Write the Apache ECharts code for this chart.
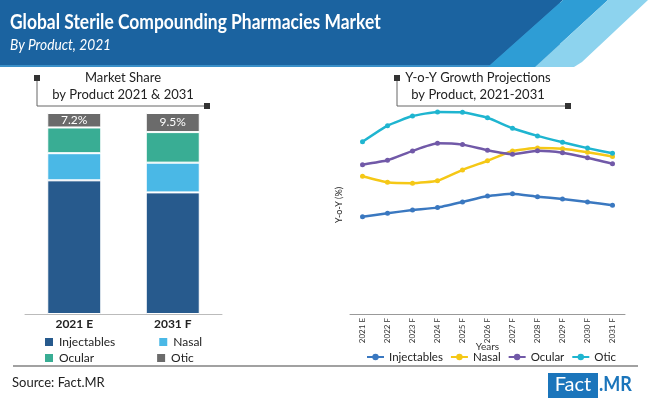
<!DOCTYPE html>
<html>
<head>
<meta charset="utf-8">
<script src="https://cdn.jsdelivr.net/npm/echarts@6/dist/echarts.min.js"></script>
<style>
  html, body { margin: 0; padding: 0; background: #fff; }
  #chart { width: 650px; height: 398px; }
</style>
</head>
<body>
<div id="chart"></div>
<script>
// market share by product (%)
var shareCategories = ['2021 E', '2031 F'];
var injectablesShare = [66.5, 60.5];
var nasalShare = [13.5, 14.8];
var ocularShare = [12.8, 15.2];
var oticShare = [7.2, 9.5];

// y-o-y growth projections (%)
var years = ['2021 E', '2022 F', '2023 F', '2024 F', '2025 F', '2026 F', '2027 F', '2028 F', '2029 F', '2030 F', '2031 F'];
var injectablesYoY = [4.46, 4.62, 4.77, 4.88, 5.14, 5.41, 5.52, 5.38, 5.28, 5.14, 4.99];
var nasalYoY = [6.32, 6.04, 6.00, 6.11, 6.61, 7.03, 7.48, 7.61, 7.58, 7.42, 7.22];
var ocularYoY = [6.85, 7.05, 7.48, 7.83, 7.77, 7.51, 7.33, 7.49, 7.40, 7.17, 6.89];
var oticYoY = [7.90, 8.64, 9.08, 9.27, 9.25, 9.00, 8.52, 8.17, 7.88, 7.61, 7.37];

var products = ['Injectables', 'Nasal', 'Ocular', 'Otic'];

var FONT = 'Lato';
var barColors = ['#275a8d', '#4ab8e6', '#39ad94', '#6b6b6b'];
var lineColors = ['#3a78c0', '#f5c816', '#7159a8', '#1fb5d0'];

var myChart = echarts.init(document.getElementById('chart'));

function barSeries(name, data, idx) {
  return {
    name: name,
    type: 'bar',
    stack: 'share',
    xAxisIndex: 0,
    yAxisIndex: 0,
    barWidth: 54,
    data: data,
    itemStyle: { color: barColors[idx], borderColor: '#fff', borderWidth: 1 },
    label: {
      show: name === 'Otic',
      position: 'inside',
      color: '#fff',
      fontSize: 12,
      fontFamily: FONT,
      formatter: function (p) { return p.value.toFixed(1) + '%'; }
    }
  };
}

// line series get a trailing space so the two legends don't share colours
function lineSeries(name, data, idx) {
  return {
    name: name + ' ',
    type: 'line',
    xAxisIndex: 1,
    yAxisIndex: 1,
    data: data,
    smooth: 0.15,
    symbol: 'circle',
    symbolSize: 5,
    lineStyle: { width: 2.5, color: lineColors[idx] },
    itemStyle: { color: lineColors[idx] }
  };
}

function bracket(x1, y1, x2, y2) {
  return [
    { type: 'polyline', shape: { points: [[x1, y1], [x1, y2], [x2, y2]] }, style: { stroke: '#666', lineWidth: 1, fill: null } },
    { type: 'rect', shape: { x: x1 - 3, y: y1 - 3, width: 6, height: 6 }, style: { fill: '#333' } },
    { type: 'rect', shape: { x: x2 - 3, y: y2 - 3, width: 6, height: 6 }, style: { fill: '#333' } }
  ];
}

var graphics = [
  // header band
  { type: 'rect', shape: { x: 0, y: 0, width: 560, height: 67 }, style: { fill: '#3a8fc8' } },
  { type: 'polygon', shape: { points: [[0, 0], [563, 0], [490, 65], [0, 65]] }, style: { fill: '#1b63a0' } },
  { type: 'polygon', shape: { points: [[563, 0], [608, 0], [535, 67], [488, 67]] }, style: { fill: '#2e9dd5' } },
  { type: 'polygon', shape: { points: [[608, 0], [648, 0], [582, 62], [574, 67], [535, 67]] }, style: { fill: '#8dd3ee' } },
  { type: 'text', x: 10, y: 12, scaleX: 0.83, style: { text: 'Global Sterile Compounding Pharmacies Market', fill: '#fff', font: 'bold 21px ' + FONT } },
  { type: 'text', x: 10, y: 37, scaleX: 0.86, style: { text: 'By Product, 2021', fill: '#fff', font: 'italic 16px ' + FONT } },

  // panel titles
  { type: 'text', x: 123, y: 71, style: { text: 'Market Share', fill: '#222', font: '13px ' + FONT, textAlign: 'center' } },
  { type: 'text', x: 123, y: 88, style: { text: 'by Product 2021 & 2031', fill: '#222', font: '13px ' + FONT, textAlign: 'center' } },
  { type: 'text', x: 478, y: 71, style: { text: 'Y-o-Y Growth Projections', fill: '#222', font: '13px ' + FONT, textAlign: 'center' } },
  { type: 'text', x: 478, y: 88, style: { text: 'by Product, 2021-2031', fill: '#222', font: '13px ' + FONT, textAlign: 'center' } },

  // footer
  { type: 'line', shape: { x1: 13, y1: 366, x2: 638, y2: 366 }, style: { stroke: '#444', lineWidth: 1.2 } },
  { type: 'text', x: 12, y: 376, style: { text: 'Source: Fact.MR', fill: '#222', font: '13px ' + FONT } },
  { type: 'rect', shape: { x: 548, y: 373, width: 50, height: 25 }, style: { fill: '#1b75bb' } },
  { type: 'text', x: 573, y: 375, style: { text: 'Fact', fill: '#fff', font: '20px ' + FONT, textAlign: 'center' } },
  { type: 'text', x: 599, y: 375, scaleX: 0.9, style: { text: '.MR', fill: '#1b75bb', font: 'bold 20px ' + FONT } }
].concat(bracket(37, 78, 207, 106), bracket(397, 78, 568, 106));

var option = {
  animation: false,
  textStyle: { fontFamily: FONT },
  grid: [
    { left: 25, top: 113, width: 197, height: 201 },
    { left: 350, top: 96, width: 275, height: 218 }
  ],
  xAxis: [
    {
      gridIndex: 0,
      type: 'category',
      data: shareCategories,
      axisLine: { lineStyle: { color: '#bbb' } },
      axisTick: { show: false },
      axisLabel: { color: '#222', fontSize: 12, fontWeight: 'bold', margin: 4 }
    },
    {
      gridIndex: 1,
      type: 'category',
      data: years,
      name: 'Years',
      nameLocation: 'middle',
      nameGap: 28,
      nameMoveOverlap: false,
      nameTextStyle: { color: '#333', fontSize: 10 },
      axisLine: { lineStyle: { color: '#999' } },
      axisTick: { show: false },
      axisLabel: { color: '#333', fontSize: 8, rotate: 90, margin: 4, interval: 0 }
    }
  ],
  yAxis: [
    { gridIndex: 0, type: 'value', min: 0, max: 100, show: false },
    {
      gridIndex: 1,
      type: 'value',
      min: 0,
      max: 10,
      name: 'Y-o-Y (%)',
      nameLocation: 'middle',
      nameRotate: 90,
      nameGap: 6,
      nameTextStyle: { color: '#222', fontSize: 9 },
      axisLine: { show: false },
      axisTick: { show: false },
      axisLabel: { show: false },
      splitLine: { show: false }
    }
  ],
  legend: [
    {
      data: [{ name: 'Injectables', icon: 'rect' }, { name: 'Nasal', icon: 'rect' }],
      left: 43, top: 336, padding: 0, itemWidth: 10, itemHeight: 10, itemGap: 42,
      selectedMode: false,
      textStyle: { color: '#222', fontSize: 12 }
    },
    {
      data: [{ name: 'Ocular', icon: 'rect' }, { name: 'Otic', icon: 'rect' }],
      left: 43, top: 352, padding: 0, itemWidth: 10, itemHeight: 10, itemGap: 61,
      selectedMode: false,
      textStyle: { color: '#222', fontSize: 12 }
    },
    {
      data: products.map(function (p) { return p + ' '; }),
      left: 366, top: 351, padding: 0, width: 284, itemWidth: 17, itemHeight: 8, itemGap: 7,
      selectedMode: false,
      formatter: function (n) { return n.trim(); },
      textStyle: { color: '#222', fontSize: 11.5 }
    }
  ],
  graphic: graphics,
  series: [
    barSeries('Injectables', injectablesShare, 0),
    barSeries('Nasal', nasalShare, 1),
    barSeries('Ocular', ocularShare, 2),
    barSeries('Otic', oticShare, 3),
    lineSeries('Injectables', injectablesYoY, 0),
    lineSeries('Nasal', nasalYoY, 1),
    lineSeries('Ocular', ocularYoY, 2),
    lineSeries('Otic', oticYoY, 3)
  ]
};

myChart.setOption(option);
</script>
</body>
</html>
